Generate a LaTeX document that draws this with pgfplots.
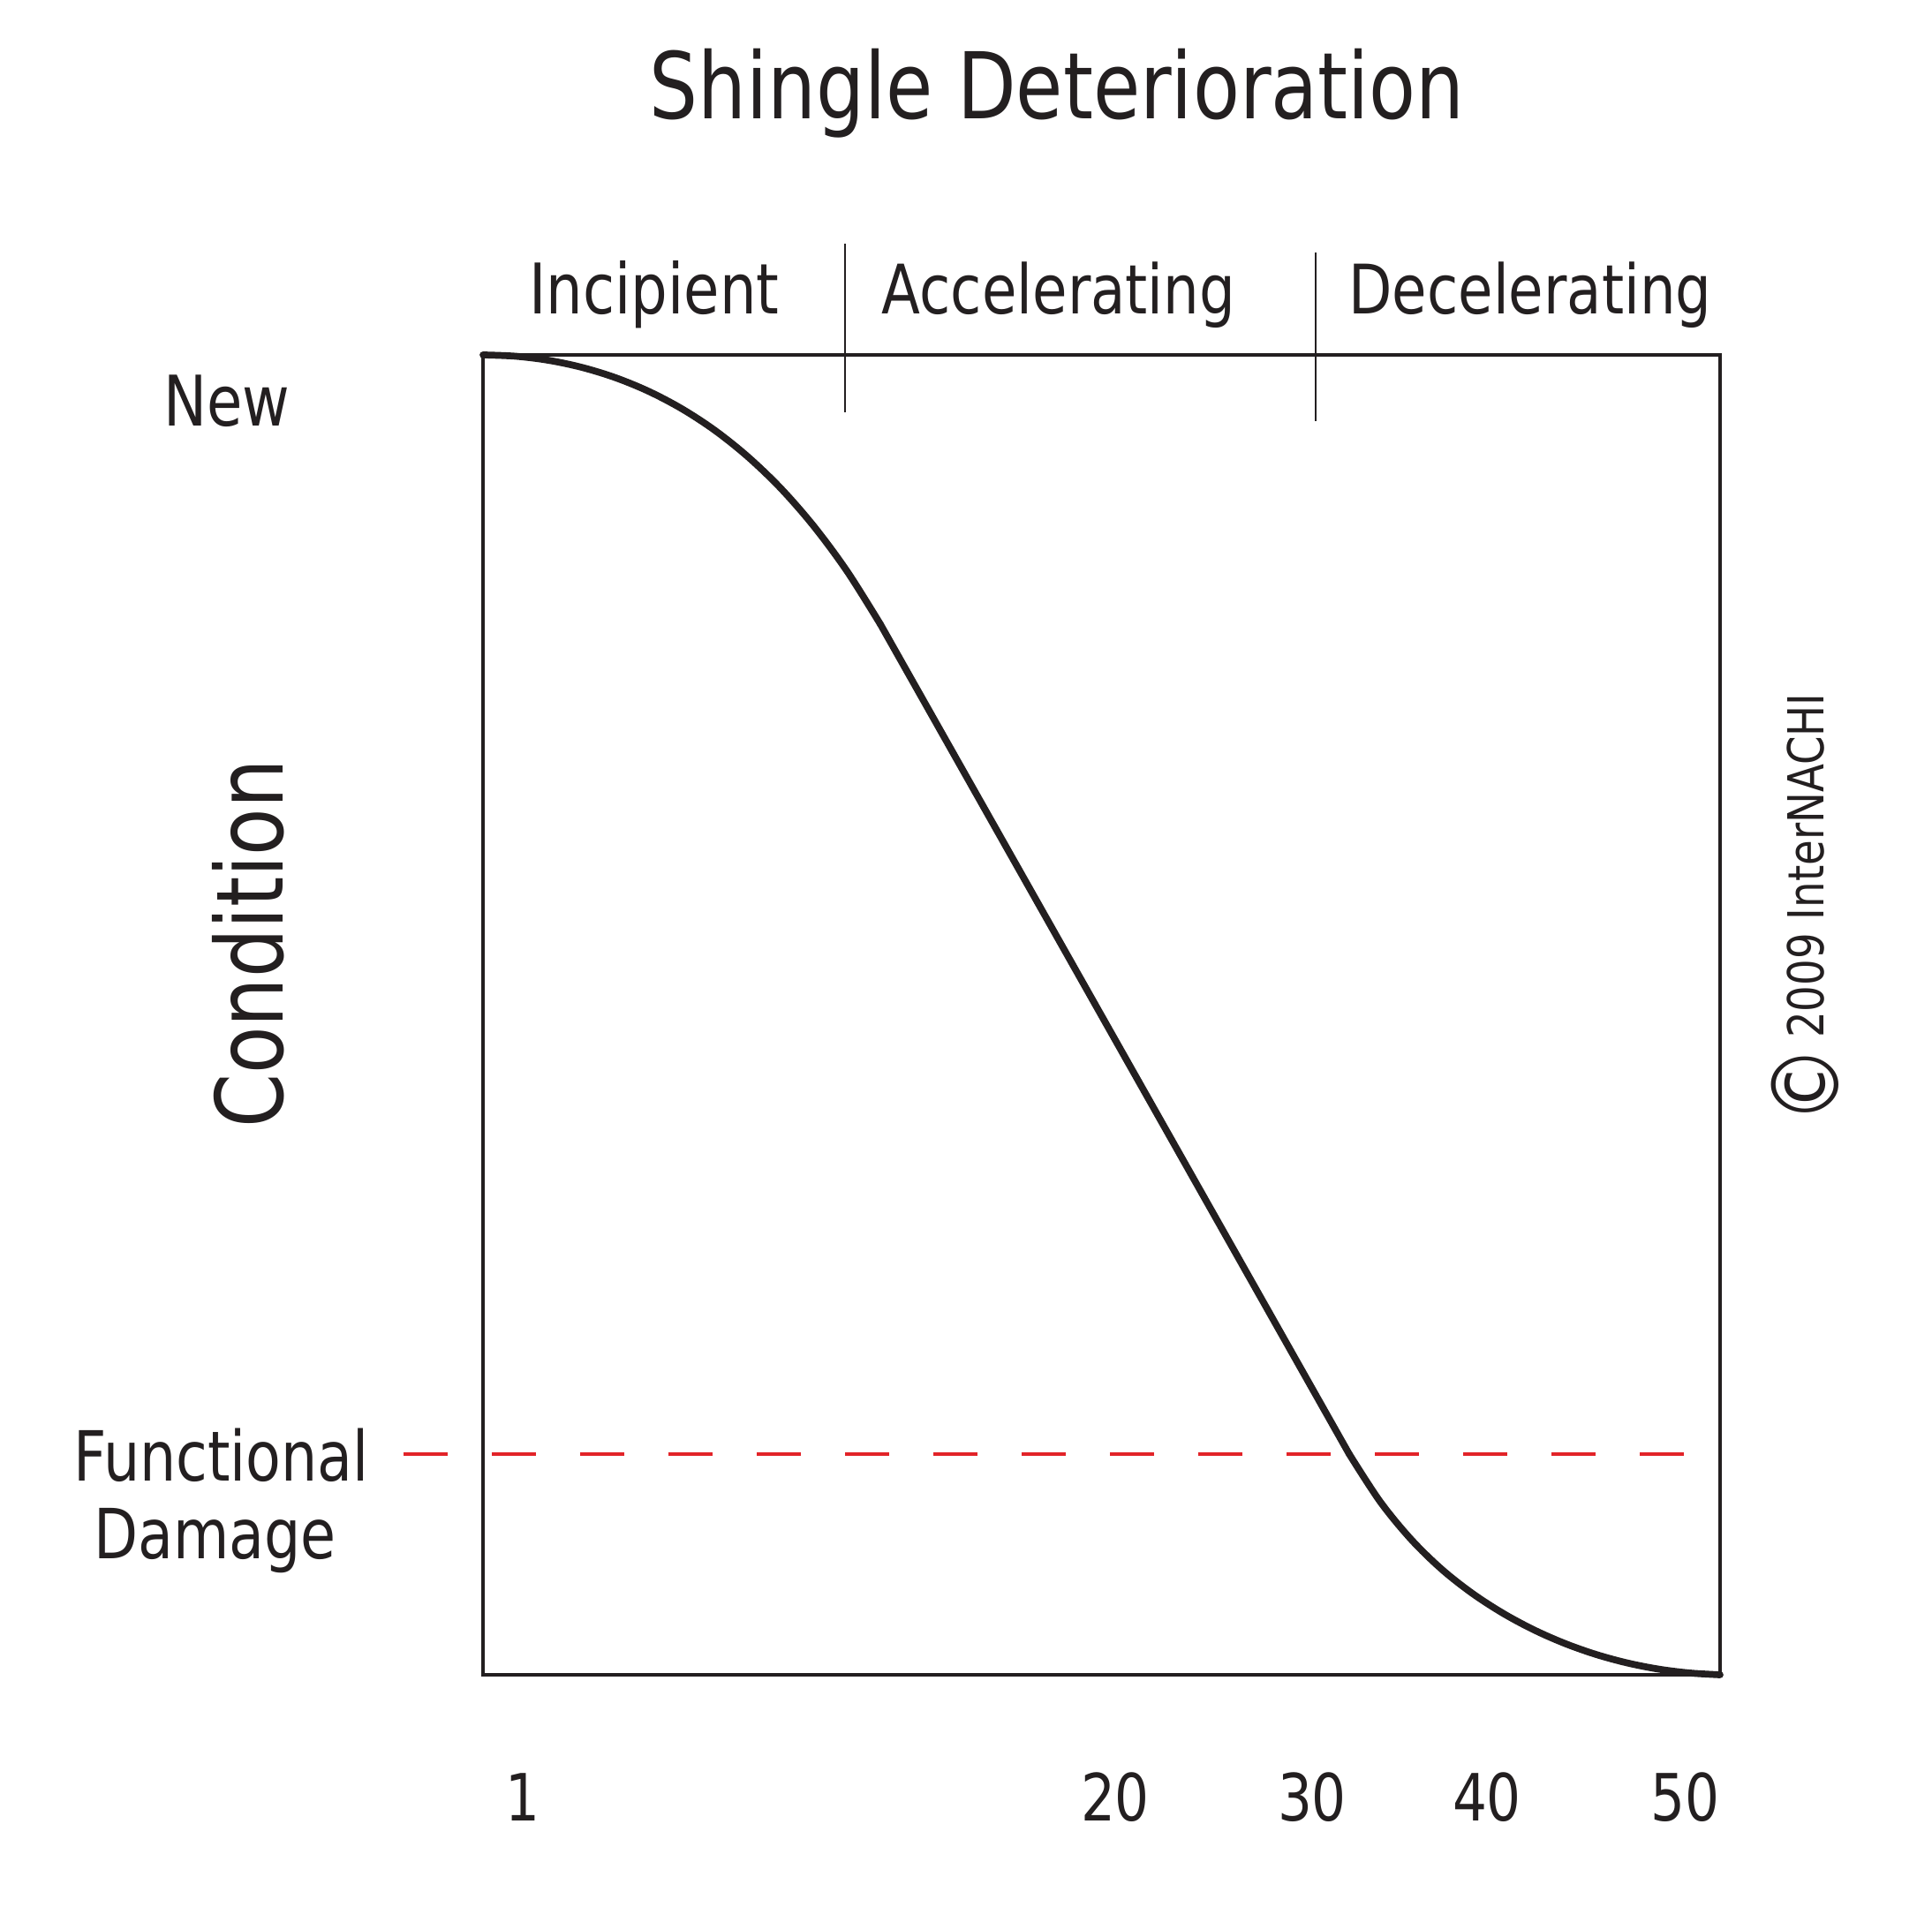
\documentclass[border=0pt]{standalone}
\usepackage{pgfplots}
\pgfplotsset{compat=1.18}
\usepackage{fontspec}
\setmainfont{DejaVu Sans}[FakeStretch=0.83]
\definecolor{ink}{RGB}{35,31,32}
\definecolor{dmgred}{RGB}{226,35,40}
\begin{document}
\begin{tikzpicture}
\begin{axis}[
  scale only axis, width=140.1mm, height=149.5mm,
  xmin=0, xmax=1401, ymin=0, ymax=1495,
  clip=false,
  axis line style={draw=ink, line width=0.94pt},
  ytick=\empty,
  xtick={45,716,939,1137,1361},
  xticklabels={1,20,30,40,50},
  major tick length=0pt,
  xticklabel style={anchor=base, yshift=-16.5mm, font=\fontsize{21}{21}\selectfont, text=ink, inner sep=0pt},
]
% incipient (curved) stage
\addplot[ink, line width=2.2pt, line cap=round, smooth, tension=0.55] coordinates {
(0,1495) (37.5,1493.45) (75,1488.74) (112.5,1480.73) (150,1469.2) (187.5,1453.8)
(225,1434.1) (262.5,1409.6) (300,1379.6) (337.5,1343.6) (375,1300.5) (412.5,1249.7) (450,1190)
};
% accelerating (straight) stage
\addplot[ink, line width=2.2pt, line cap=round] coordinates {(450,1190) (981,250)};
% decelerating (curved) stage
\addplot[ink, line width=2.2pt, line cap=round, smooth, tension=0.55] coordinates {
(981,250) (1016,196.2) (1051,153.5) (1086,119.3) (1121,91.8) (1156,69.2) (1191,50.5)
(1226,35.2) (1261,22.9) (1296,13.4) (1331,6.5) (1366,2.1) (1401,0)
};
\addplot[dmgred, line width=0.94pt, dash pattern=on 5mm off 5mm] coordinates {(-90,250) (1361,250)};
\addplot[ink, line width=0.4pt] coordinates {(410,1430) (410,1621)};
\addplot[ink, line width=0.4pt] coordinates {(943,1420) (943,1611)};

\node[anchor=base, font=\fontsize{29.7}{29.7}\selectfont, text=ink] at (axis cs:650,1762) {Shingle Deterioration};
\node[anchor=base, font=\fontsize{22.5}{22.5}\selectfont, text=ink] at (axis cs:194,1541) {Incipient};
\node[anchor=base, font=\fontsize{22}{22}\selectfont, text=ink] at (axis cs:652,1541) {Accelerating};
\node[anchor=base, font=\fontsize{22}{22}\selectfont, text=ink] at (axis cs:1186,1541) {Decelerating};
\node[anchor=base, font=\fontsize{22.5}{22.5}\selectfont, text=ink] at (axis cs:-290,1414) {New};
\node[anchor=base, font=\fontsize{22.3}{22.3}\selectfont, text=ink] at (axis cs:-296.5,220) {Functional};
\node[anchor=base, font=\fontsize{22.3}{22.3}\selectfont, text=ink] at (axis cs:-303.5,132) {Damage};
\node[anchor=base, rotate=90, font=\fontsize{30}{30}\selectfont, text=ink] at (axis cs:-226,828) {Condition};
\node[anchor=base, rotate=90, font=\fontsize{16}{16}\selectfont, text=ink] at (axis cs:1518,868) {\raisebox{-5.1pt}{\fontsize{30}{30}\selectfont ©}\,2009 InterNACHI};

\coordinate (BBA) at (axis cs:-547,1897);
\coordinate (BBB) at (axis cs:1641,-279);
\end{axis}
\pgfresetboundingbox
\path[use as bounding box] (BBA) rectangle (BBB);
\end{tikzpicture}
\end{document}
